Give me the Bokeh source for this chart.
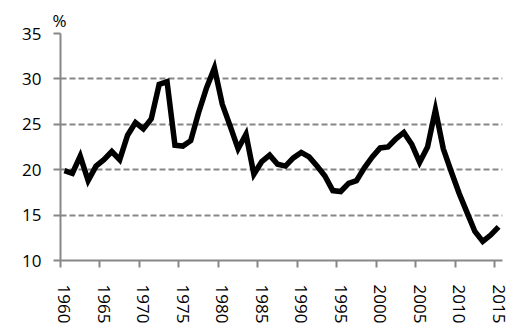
from bokeh.plotting import figure
from bokeh.models import Range1d, FixedTicker, Title
from bokeh.embed import file_html
from bokeh.resources import INLINE

years = list(range(1960, 2016))
values = [19.9, 19.6, 21.5, 18.8, 20.4, 21.1, 22.0, 21.1, 23.8, 25.2,
          24.5, 25.6, 29.4, 29.7, 22.7, 22.6, 23.2, 26.3, 29.0, 31.2,
          27.2, 24.8, 22.3, 23.9, 19.5, 20.9, 21.6, 20.6, 20.4, 21.3,
          21.9, 21.4, 20.4, 19.3, 17.7, 17.6, 18.5, 18.8, 20.2, 21.4,
          22.4, 22.5, 23.4, 24.1, 22.8, 20.8, 22.5, 26.6, 22.3, 19.8,
          17.4, 15.3, 13.2, 12.1, 12.8, 13.7]
x_label_years = [1960, 1965, 1970, 1975, 1980, 1985, 1990, 1995, 2000, 2005, 2010, 2015]
y_ticks = [10, 15, 20, 25, 30, 35]
unit_label = "%"

FONT = "Open Sans"
GRAY = "#878787"

p = figure(width=520, height=330, output_backend="svg", toolbar_location=None,
           x_range=Range1d(years[0] - 0.5, years[-1] + 0.5),
           y_range=Range1d(y_ticks[0], y_ticks[-1]),
           min_border_left=60, min_border_right=18, min_border_top=33, min_border_bottom=70)
p.outline_line_color = None
p.background_fill_color = "white"

# unit label above the y axis
t = Title(text=unit_label, align="left", offset=-8, standoff=4,
          text_font=FONT, text_font_size="17px", text_font_style="normal",
          text_color="black")
p.add_layout(t, "above")

# x axis: labels at category centres, tick marks at category boundaries
xa = p.xaxis[0]
xa.ticker = FixedTicker(ticks=x_label_years, minor_ticks=[y - 0.5 for y in x_label_years])
xa.major_label_orientation = "vertical"
xa.major_tick_line_color = None
xa.major_tick_out = 0
xa.major_tick_in = 0
xa.minor_tick_out = 7
xa.minor_tick_in = 0
xa.minor_tick_line_color = GRAY
xa.minor_tick_line_width = 2
xa.axis_line_color = GRAY
xa.axis_line_width = 2
xa.major_label_text_font = FONT
xa.major_label_text_font_size = "17px"
xa.major_label_text_color = "black"
xa.major_label_standoff = 17

ya = p.yaxis[0]
ya.ticker = FixedTicker(ticks=y_ticks)
ya.minor_tick_line_color = None
ya.major_tick_out = 7
ya.major_tick_in = 0
ya.major_tick_line_color = GRAY
ya.major_tick_line_width = 2
ya.axis_line_color = GRAY
ya.axis_line_width = 2
ya.major_label_text_font = FONT
ya.major_label_text_font_size = "17px"
ya.major_label_text_color = "black"
ya.major_label_standoff = 12

p.xgrid.grid_line_color = None
p.ygrid.ticker = FixedTicker(ticks=y_ticks[1:])
p.ygrid.grid_line_color = GRAY
p.ygrid.grid_line_width = 2
p.ygrid.grid_line_dash = "6 3"

p.line(years, values, line_color="black", line_width=5.5, line_join="miter")

open("out.html", "w").write(file_html(p, INLINE))
